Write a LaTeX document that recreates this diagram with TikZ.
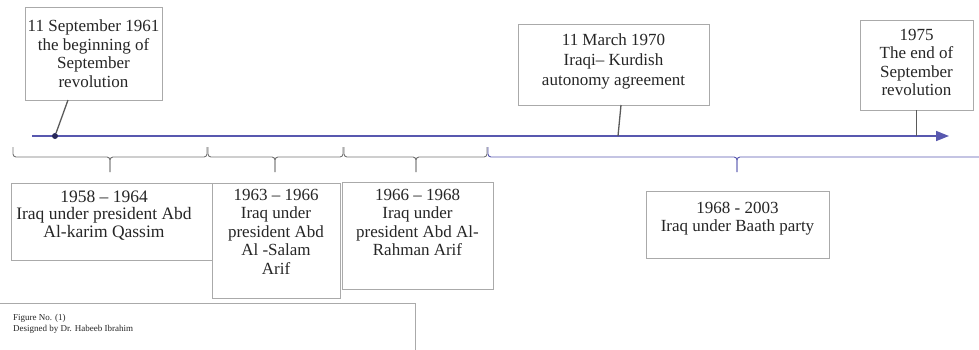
\documentclass[tikz,border=0pt]{standalone}
\usepackage{fontspec}
\setmainfont{Liberation Serif}
\usetikzlibrary{positioning,arrows.meta}
\definecolor{tline}{RGB}{88,88,175}
\definecolor{tgrey}{RGB}{170,170,170}
\definecolor{tconn}{RGB}{90,90,90}
\definecolor{tdot}{RGB}{40,40,90}
\tikzset{
  tbox/.style={draw=tgrey, line width=0.9pt, fill=white, inner sep=0pt},
  ttext/.style={inner sep=0pt, align=center, text=black!85, font=\fontsize{17}{18.5}\selectfont},
  tconnect/.style={draw=tconn, line width=1.3pt},
  tbrace/.style={draw=black!55, line width=0.9pt, rounded corners=3pt}
}
% period bracket: left end, middle, right end
\newcommand{\tperiod}[4][]{
  \draw[tbrace,#1] (#2,147) -- (#2,157) -- (#3,157) -- (#3,172);
  \draw[tbrace,#1] (#3,172) -- (#3,157) -- (#4,157) -- (#4,147);
}
\begin{document}
\begin{tikzpicture}[x=1pt,y=-1pt]
\useasboundingbox (0,0) rectangle (979,349);

\coordinate (ls) at (32,136);
\coordinate (le) at (949,136);
\draw[tline, line width=1.6pt, -{Triangle[length=13pt,width=10pt]}] (ls) -- (le);

\node[circle, fill=tdot, inner sep=0pt, minimum size=6pt] (d1) at (55,136){};
\coordinate (d2) at (618,136);
\coordinate (d3) at (916.5,136);

\node[tbox, minimum width=137pt, minimum height=93pt] (t1) at (93.5,53.5){};
\node[ttext, below=13pt of t1.north] (t1txt) {11 September 1961\\the beginning of\\September\\revolution};

\node[tbox, minimum width=191pt, minimum height=81pt] (t2) at (613.5,64.5){};
\node[ttext, below=10pt of t2.north, font=\fontsize{17}{20}\selectfont] (t2txt) {11 March 1970\\Iraqi– Kurdish\\autonomy agreement};

\node[tbox, minimum width=113pt, minimum height=90pt] (t3) at (916.5,65){};
\node[ttext, below=9pt of t3.north] (t3txt) {1975\\The end of\\September\\revolution};

\coordinate (c1) at (68,100);
\coordinate (c2) at (621,105);
\draw[tconnect] (c1) -- (d1);
\draw[tconnect] (c2) -- (d2);
\draw[tconnect] (t3.south) -- (d3);

\tperiod{13}{110}{207}
\tperiod{208}{275}{343}
\tperiod{344}{416}{487}
\tperiod[draw=tline]{488}{737}{990}

\node[tbox, minimum width=202pt, minimum height=77pt] (p1) at (112,221.5){};
\node[ttext, below=8pt of p1.north, xshift=-8pt, font=\fontsize{17.5}{17.5}\selectfont] (p1txt) {1958 – 1964\\Iraq under president Abd\\Al-karim Qassim};

\node[tbox, minimum width=128pt, minimum height=115pt] (p2) at (276,240.5){};
\node[ttext, below=6pt of p2.north] (p2txt) {1963 – 1966\\Iraq under\\president Abd\\Al -Salam\\Arif};

\node[tbox, minimum width=151pt, minimum height=107pt] (p3) at (417.5,235.5){};
\node[ttext, below=7pt of p3.north] (p3txt) {1966 – 1968\\Iraq under\\president Abd Al-\\Rahman Arif};

\node[tbox, minimum width=183pt, minimum height=67pt] (p4) at (737.5,224.5){};
\node[ttext, below=11pt of p4.north] (p4txt) {1968 - 2003\\Iraq under Baath party};

\node[tbox, minimum width=417pt, minimum height=60pt] (fig) at (206.5,333){};
\node[anchor=north west, inner sep=0pt, align=left, text=black!85, font=\fontsize{9}{11}\selectfont] (figtxt) at (13,314) {Figure No. (1)\\Designed by Dr. Habeeb Ibrahim};

\end{tikzpicture}
\end{document}
